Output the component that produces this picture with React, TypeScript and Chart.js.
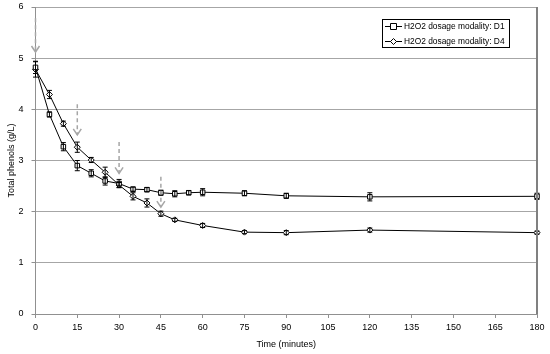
import React, { useEffect, useRef } from "react";
import { Chart, registerables } from "chart.js";

Chart.register(...registerables);

const times = [0, 5, 10, 15, 20, 25, 30, 35, 40, 45, 50, 55, 60, 75, 90, 120, 180];
const d1Values = [4.82, 3.9, 3.27, 2.9, 2.75, 2.6, 2.55, 2.44, 2.43, 2.37, 2.35, 2.37, 2.38, 2.36, 2.31, 2.29, 2.3];
const d1Errors = [0.12, 0.05, 0.08, 0.1, 0.07, 0.08, 0.08, 0.04, 0.04, 0.05, 0.06, 0.04, 0.07, 0.05, 0.05, 0.08, 0.06];

const d4Times = [0, 5, 10, 15, 20, 25, 30, 35, 40, 45, 50, 60, 75, 90, 120, 180];
const d4Values = [4.78, 4.29, 3.72, 3.26, 3.01, 2.77, 2.52, 2.3, 2.17, 1.96, 1.84, 1.73, 1.6, 1.59, 1.64, 1.59];
const d4Errors = [0.15, 0.08, 0.05, 0.1, 0.05, 0.1, 0.05, 0.07, 0.08, 0.05, 0.03, 0.04, 0.03, 0.04, 0.04, 0.03];

const arrowTimes = [0, 15, 30, 45];
const arrowTops = [5.78, 4.1, 3.36, 2.68];
const arrowTips = [5.12, 3.5, 2.75, 2.09];

const xTicks = [0, 15, 30, 45, 60, 75, 90, 105, 120, 135, 150, 165, 180];
const seriesLabels = ["H2O2 dosage modality: D1", "H2O2 dosage modality: D4"];
const errorSets = [d1Errors, d4Errors];

const FONT = "'Liberation Sans', Arial, sans-serif";

const errorBarPlugin = {
  id: "errorBars",
  afterDatasetsDraw(chart: any) {
    const { ctx, scales } = chart;
    ctx.save();
    ctx.strokeStyle = "#000";
    ctx.lineWidth = 1;
    chart.data.datasets.forEach((ds: any, i: number) => {
      const errs = errorSets[i];
      ds.data.forEach((p: any, j: number) => {
        const x = scales.x.getPixelForValue(p.x);
        const yt = scales.y.getPixelForValue(p.y + errs[j]);
        const yb = scales.y.getPixelForValue(p.y - errs[j]);
        ctx.beginPath();
        ctx.moveTo(x, yt);
        ctx.lineTo(x, yb);
        ctx.moveTo(x - 2.5, yt);
        ctx.lineTo(x + 2.5, yt);
        ctx.moveTo(x - 2.5, yb);
        ctx.lineTo(x + 2.5, yb);
        ctx.stroke();
      });
    });
    ctx.restore();
  },
};

const arrowPlugin = {
  id: "arrows",
  afterDatasetsDraw(chart: any) {
    const { ctx, scales } = chart;
    ctx.save();
    ctx.strokeStyle = "#a6a6a6";
    ctx.lineWidth = 1.5;
    arrowTimes.forEach((t, i) => {
      const x = scales.x.getPixelForValue(t);
      const y0 = scales.y.getPixelForValue(arrowTops[i]);
      const y1 = scales.y.getPixelForValue(arrowTips[i]);
      ctx.setLineDash([4, 3]);
      ctx.beginPath();
      ctx.moveTo(x, y0);
      ctx.lineTo(x, y1);
      ctx.stroke();
      ctx.setLineDash([]);
      ctx.beginPath();
      ctx.moveTo(x - 4, y1 - 6);
      ctx.lineTo(x, y1);
      ctx.lineTo(x + 4, y1 - 6);
      ctx.stroke();
    });
    ctx.restore();
  },
};

const frameLegendPlugin = {
  id: "frameLegend",
  afterDraw(chart: any) {
    const { ctx, chartArea } = chart;
    ctx.save();
    ctx.strokeStyle = "#808080";
    ctx.lineWidth = 2;
    ctx.beginPath();
    ctx.moveTo(chartArea.right, chartArea.top);
    ctx.lineTo(chartArea.right, chartArea.bottom);
    ctx.stroke();
    const bx = chartArea.right - 155;
    const by = chartArea.top + 12;
    const bw = 127;
    const bh = 28;
    ctx.fillStyle = "#fff";
    ctx.fillRect(bx, by, bw, bh);
    ctx.strokeStyle = "#000";
    ctx.lineWidth = 1;
    ctx.strokeRect(bx + 0.5, by + 0.5, bw, bh);
    ctx.font = `8.4px ${FONT}`;
    ctx.textBaseline = "middle";
    ctx.textAlign = "left";
    seriesLabels.forEach((label, i) => {
      const y = by + 7.5 + i * 15;
      const sx = bx + 3;
      ctx.strokeStyle = "#000";
      ctx.lineWidth = 1;
      ctx.beginPath();
      ctx.moveTo(sx, y);
      ctx.lineTo(sx + 17, y);
      ctx.stroke();
      const cx = sx + 8.5;
      ctx.fillStyle = "#fff";
      ctx.beginPath();
      if (i === 0) {
        ctx.rect(cx - 3, y - 3, 6, 6);
      } else {
        ctx.moveTo(cx, y - 3);
        ctx.lineTo(cx + 3, y);
        ctx.lineTo(cx, y + 3);
        ctx.lineTo(cx - 3, y);
        ctx.closePath();
      }
      ctx.fill();
      ctx.stroke();
      ctx.fillStyle = "#000";
      ctx.fillText(label, sx + 19, y);
    });
    ctx.restore();
  },
};

export default function App() {
  const ref = useRef<HTMLCanvasElement | null>(null);
  useEffect(() => {
    if (!ref.current) return;
    const chart = new Chart(ref.current, {
      type: "line",
      data: {
        datasets: [
          {
            label: seriesLabels[0],
            data: times.map((t, i) => ({ x: t, y: d1Values[i] })),
            borderColor: "#000",
            borderWidth: 1,
            pointStyle: "rect",
            pointRadius: 3.2,
            pointBackgroundColor: "#fff",
            pointBorderColor: "#000",
            pointBorderWidth: 1,
            tension: 0,
            clip: false,
          },
          {
            label: seriesLabels[1],
            data: d4Times.map((t, i) => ({ x: t, y: d4Values[i] })),
            borderColor: "#000",
            borderWidth: 1,
            pointStyle: "rectRot",
            pointRadius: 3,
            pointBackgroundColor: "#fff",
            pointBorderColor: "#000",
            pointBorderWidth: 1,
            tension: 0,
            clip: false,
          },
        ],
      },
      options: {
        animation: false,
        responsive: false,
        layout: { padding: { left: 0, right: 13, top: 7, bottom: 0 } },
        plugins: { legend: { display: false }, tooltip: { enabled: false } },
        scales: {
          x: {
            type: "linear",
            min: 0,
            max: 180,
            afterFit: (s: any) => {
              s.height = 40;
              s.paddingLeft = 0;
              s.paddingRight = 0;
            },
            afterBuildTicks: (s: any) => {
              s.ticks = xTicks.map((v) => ({ value: v }));
            },
            ticks: {
              color: "#000",
              font: { family: FONT, size: 9 },
              padding: 4,
              maxRotation: 0,
              autoSkip: false,
            },
            grid: {
              drawOnChartArea: false,
              drawTicks: true,
              tickLength: 4,
              color: "#909090",
            },
            border: { color: "#909090", width: 1 },
            title: {
              display: true,
              text: "Time (minutes)",
              color: "#000",
              font: { family: FONT, size: 9 },
              padding: { top: 0, bottom: 4 },
            },
          },
          y: {
            min: 0,
            max: 6,
            afterFit: (s: any) => {
              s.width = 35.5;
              s.paddingTop = 0;
              s.paddingBottom = 0;
            },
            ticks: {
              stepSize: 1,
              color: "#000",
              font: { family: FONT, size: 9 },
              padding: 8,
            },
            grid: {
              color: "#a6a6a6",
              tickLength: 4,
              tickColor: "#909090",
            },
            border: { color: "#909090", width: 1 },
            title: {
              display: true,
              text: "Total phenols (g/L)",
              color: "#000",
              font: { family: FONT, size: 9 },
              padding: { top: 6, bottom: 0 },
            },
          },
        },
      },
      plugins: [errorBarPlugin, arrowPlugin, frameLegendPlugin],
    } as any);
    return () => chart.destroy();
  }, []);
  return (
    <div style={{ position: "fixed", left: 0, top: 0, width: 550, height: 354, background: "#fff" }}>
      <canvas ref={ref} width={550} height={354} />
    </div>
  );
}
